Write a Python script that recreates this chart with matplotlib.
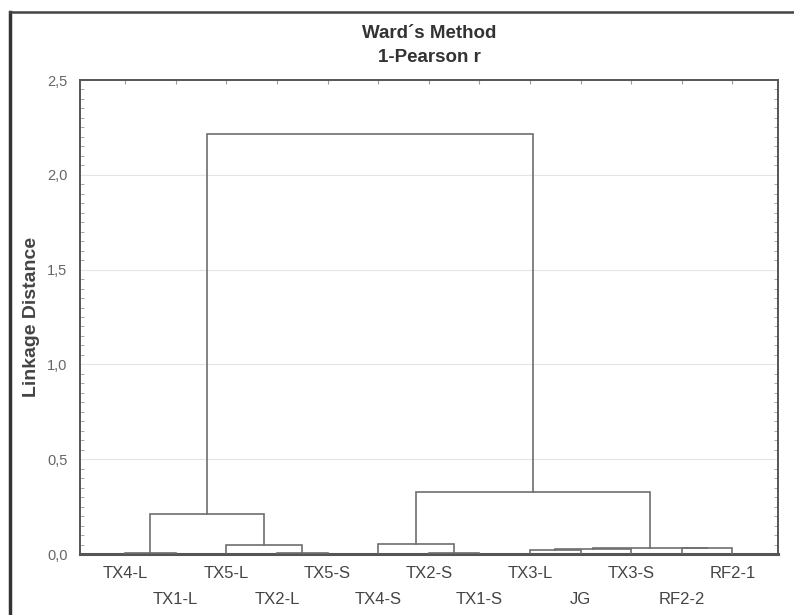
import matplotlib.pyplot as plt
from matplotlib.lines import Line2D

# leaves, left to right
leaves = ["TX4-L", "TX1-L", "TX5-L", "TX2-L", "TX5-S", "TX4-S", "TX2-S",
          "TX1-S", "TX3-L", "JG", "TX3-S", "RF2-2", "RF2-1"]

# merges: nodes 0..12 are leaves, 13.. are clusters in the order made
merge_left = [0, 3, 2, 6, 5, 8, 18, 11, 19, 13, 17, 22]
merge_right = [1, 4, 14, 7, 16, 9, 10, 12, 20, 15, 21, 23]
merge_height = [0.005, 0.005, 0.045, 0.005, 0.055, 0.022, 0.028, 0.030,
                0.034, 0.21, 0.326, 2.216]

yticks = [0.0, 0.5, 1.0, 1.5, 2.0, 2.5]
ytick_labels = ["0,0", "0,5", "1,0", "1,5", "2,0", "2,5"]

fig = plt.figure(figsize=(7.94, 6.15), dpi=100)
ax = fig.add_axes([80 / 794, 61 / 615, 698 / 794, 474 / 615])

line_col = "#6e6e6e"
x_of = {i: float(i) for i in range(len(leaves))}
h_of = {i: 0.0 for i in range(len(leaves))}
node = len(leaves)
for a, b, h in zip(merge_left, merge_right, merge_height):
    xa, xb = x_of[a], x_of[b]
    ax.plot([xa, xa, xb, xb], [h_of[a], h, h, h_of[b]], color=line_col,
            lw=1.2, solid_joinstyle="miter", zorder=3)
    x_of[node] = (xa + xb) / 2
    h_of[node] = h
    node += 1

ax.set_xlim(-0.89, 12.9)
ax.set_ylim(0, 2.5)
ax.set_yticks(yticks)
ax.set_yticklabels(ytick_labels, color="#666666", fontsize=10.5,
                   family="Liberation Sans")
ax.set_yticks([i * 0.05 for i in range(51)], minor=True)
ax.tick_params(axis="y", which="major", direction="in", length=0, pad=9)
ax.tick_params(axis="y", which="minor", direction="in", length=3,
               color="#999999", right=True)
ax.set_xticks(range(len(leaves)))
ax.set_xticklabels([])
ax.tick_params(axis="x", direction="in", length=3, color="#999999",
               top=True, bottom=False)
for y in yticks[1:-1]:
    ax.axhline(y, color="#e4e4e4", lw=0.8, zorder=1)

for sp in ax.spines.values():
    sp.set_color("#555555")
    sp.set_linewidth(1.4)
ax.spines["bottom"].set_linewidth(2.2)

for i, name in enumerate(leaves):
    ax.annotate(name, (i, 0), xycoords=("data", "axes fraction"),
                xytext=(0, -9 if i % 2 == 0 else -27),
                textcoords="offset points", ha="center", va="top",
                fontsize=12, color="#444444", family="Liberation Sans")

ax.set_ylabel("Linkage Distance", fontsize=14, fontweight="bold",
              color="#444444", family="Liberation Sans", labelpad=5)
fig.text(429 / 794, 1 - 33 / 615, "Ward´s Method", ha="center", va="center",
         fontsize=13.5, fontweight="bold", color="#333333",
         family="Liberation Sans")
fig.text(429 / 794, 1 - 58 / 615, "1-Pearson r", ha="center", va="center",
         fontsize=13.5, fontweight="bold", color="#333333",
         family="Liberation Sans")

# outer frame (left and top edge of the original panel)
fig.add_artist(Line2D([10 / 794, 10 / 794], [0, 1 - 12 / 615],
                      transform=fig.transFigure, color="#333333", lw=2.5))
fig.add_artist(Line2D([10 / 794, 1], [1 - 12 / 615, 1 - 12 / 615],
                      transform=fig.transFigure, color="#444444", lw=1.8))

fig.savefig("out.png", dpi=100)
